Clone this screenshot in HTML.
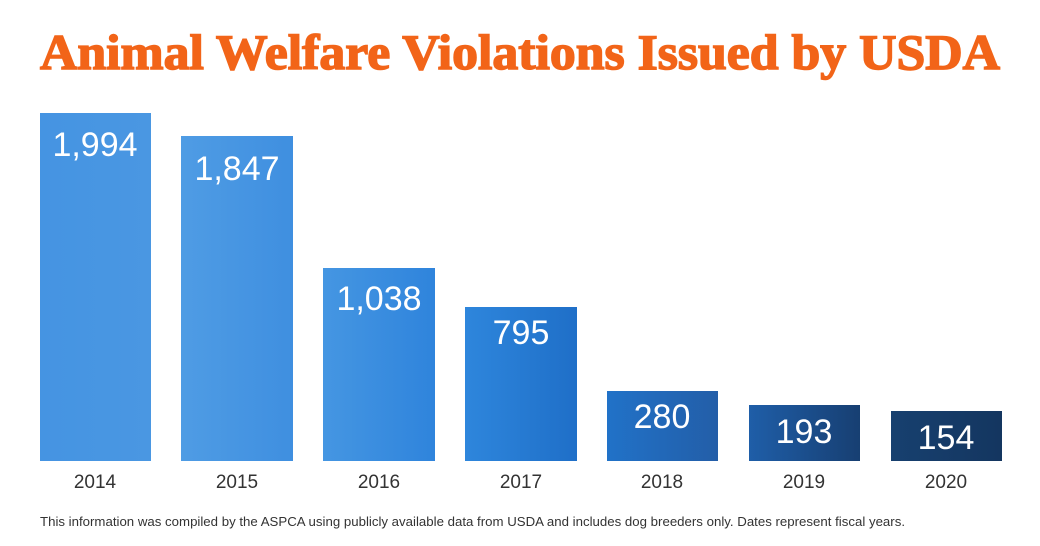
<!DOCTYPE html>
<html><head><meta charset="utf-8"><style>body{margin:0;background:#fff}svg{display:block}</style></head><body>
<svg width="1040" height="546" xmlns="http://www.w3.org/2000/svg">
<defs>
<linearGradient id="g1" x1="0" x2="1"><stop offset="0" stop-color="#4594e2"/><stop offset="1" stop-color="#4a97e2"/></linearGradient>
<linearGradient id="g2" x1="0" x2="1"><stop offset="0" stop-color="#4f9ce4"/><stop offset="1" stop-color="#3f8fe0"/></linearGradient>
<linearGradient id="g3" x1="0" x2="1"><stop offset="0" stop-color="#4596e2"/><stop offset="1" stop-color="#2f84dc"/></linearGradient>
<linearGradient id="g4" x1="0" x2="1"><stop offset="0" stop-color="#2e86dc"/><stop offset="1" stop-color="#1f6fc8"/></linearGradient>
<linearGradient id="g5" x1="0" x2="1"><stop offset="0" stop-color="#2172c8"/><stop offset="1" stop-color="#235ea8"/></linearGradient>
<linearGradient id="g6" x1="0" x2="1"><stop offset="0" stop-color="#1f5ea8"/><stop offset="1" stop-color="#173f72"/></linearGradient>
<linearGradient id="g7" x1="0" x2="1"><stop offset="0" stop-color="#17406f"/><stop offset="1" stop-color="#143660"/></linearGradient>
</defs>
<text x="40" y="69" textLength="960" lengthAdjust="spacingAndGlyphs" font-family="Liberation Serif, serif" font-weight="bold" font-size="50" fill="#f26418" stroke="#f26418" stroke-width="1.5">Animal Welfare Violations Issued by USDA</text>
<g font-family="Liberation Sans, sans-serif" fill="#fff" font-size="34" text-anchor="middle">
<rect x="40" y="113" width="111" height="348" fill="url(#g1)"/><text x="95" y="156">1,994</text>
<rect x="181" y="136" width="112" height="325" fill="url(#g2)"/><text x="237" y="180">1,847</text>
<rect x="323" y="268" width="112" height="193" fill="url(#g3)"/><text x="379" y="310">1,038</text>
<rect x="465" y="307" width="112" height="154" fill="url(#g4)"/><text x="521" y="344">795</text>
<rect x="607" y="391" width="111" height="70" fill="url(#g5)"/><text x="662" y="428">280</text>
<rect x="749" y="405" width="111" height="56" fill="url(#g6)"/><text x="804" y="443">193</text>
<rect x="891" y="411" width="111" height="50" fill="url(#g7)"/><text x="946" y="449">154</text>
</g>
<g font-family="Liberation Sans, sans-serif" fill="#333" font-size="19" text-anchor="middle">
<text x="95" y="488">2014</text><text x="237" y="488">2015</text><text x="379" y="488">2016</text><text x="521" y="488">2017</text><text x="662" y="488">2018</text><text x="804" y="488">2019</text><text x="946" y="488">2020</text>
</g>
<text x="40" y="526" textLength="865" lengthAdjust="spacingAndGlyphs" font-family="Liberation Sans, sans-serif" font-size="13" fill="#333">This information was compiled by the ASPCA using publicly available data from USDA and includes dog breeders only. Dates represent fiscal years.</text>
</svg>
</body></html>
